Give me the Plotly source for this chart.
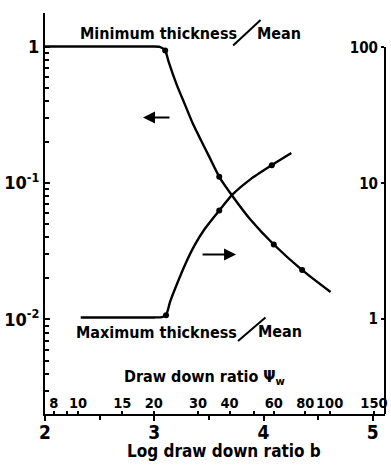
import numpy as np
import plotly.graph_objects as go

# ---- data ----
# Minimum thickness / Mean  (left axis) vs log draw down ratio b
b_min = [2.0, 2.5, 2.95, 3.05, 3.10, 3.132, 3.206, 3.281, 3.356, 3.43, 3.505, 3.595,
         3.717, 3.88, 4.094, 4.354, 4.614]
min_ratio = [1.0, 1.0, 1.0, 0.995, 0.936, 0.77, 0.523, 0.375, 0.269, 0.204, 0.1546, 0.111,
             0.080, 0.054, 0.0354, 0.023, 0.0159]
b_min_pts = [3.10, 3.595, 4.094, 4.354]
min_pts = [0.936, 0.111, 0.0354, 0.023]

# Maximum thickness / Mean  (right axis)
b_max = [2.327, 2.8, 3.0, 3.07, 3.108, 3.146, 3.206, 3.281, 3.37, 3.46, 3.595, 3.715,
         3.88, 4.076, 4.255]
max_ratio = [1.03, 1.03, 1.03, 1.035, 1.07, 1.35, 1.80, 2.51, 3.51, 4.59, 6.31, 8.25,
             10.7, 13.6, 16.7]
b_max_pts = [3.108, 3.595, 4.076]
max_pts = [1.07, 6.31, 13.6]

# axis ticks
b_ticks = [2, 3, 4, 5]
psi_ticks = [8, 9, 10, 15, 20, 30, 40, 50, 60, 80, 100, 150]
psi_labels = ["8", " ", "10", "15", "20", "30", "40", " ", "60", "80", "100", "150"]
left_ticks = [1, 0.1, 0.01]
left_labels = ["1", "10<sup>-1</sup>", "10<sup>-2</sup>"]
right_ticks = [1, 10, 100]
right_labels = ["1", "10", "100"]

FONT = "DejaVu Sans Condensed, DejaVu Sans"
BLACK = "black"

fig = go.Figure()
fig.add_trace(go.Scatter(x=b_min, y=min_ratio, mode="lines",
                         line=dict(color=BLACK, width=2.4, shape="spline", smoothing=0.6),
                         xaxis="x", yaxis="y", showlegend=False))
fig.add_trace(go.Scatter(x=b_min_pts, y=min_pts, mode="markers",
                         marker=dict(color=BLACK, size=6),
                         xaxis="x", yaxis="y", showlegend=False))
fig.add_trace(go.Scatter(x=b_max, y=max_ratio, mode="lines",
                         line=dict(color=BLACK, width=2.4, shape="spline", smoothing=0.6),
                         xaxis="x", yaxis="y2", showlegend=False))
fig.add_trace(go.Scatter(x=b_max_pts, y=max_pts, mode="markers",
                         marker=dict(color=BLACK, size=6),
                         xaxis="x", yaxis="y2", showlegend=False))
# invisible trace to activate the top psi scale
fig.add_trace(go.Scatter(x=[np.log(psi_ticks[0])], y=[1], mode="markers",
                         marker=dict(opacity=0), xaxis="x2", yaxis="y",
                         showlegend=False, hoverinfo="skip"))

xr = [2, 2 + 347 / 111.5]
minor_left = [k * 10.0 ** e for e in (-3, -2, -1) for k in range(2, 10)]

fig.update_layout(
    width=391, height=468,
    margin=dict(l=40, r=4, t=7, b=54),
    paper_bgcolor="white", plot_bgcolor="rgba(0,0,0,0)",
    font=dict(family=FONT, color=BLACK),
    xaxis=dict(range=xr, tickvals=b_ticks, ticks="outside", ticklen=5, tickwidth=2,
               tickcolor=BLACK, showline=True, linecolor=BLACK, linewidth=2,
               showgrid=False, zeroline=False, ticklabelstandoff=-5,
               tickfont=dict(size=19, family=FONT, weight="bold"),
               minor=dict(dtick=0.5, ticks="outside", ticklen=4, tickwidth=2, tickcolor=BLACK, showgrid=False)),
    xaxis2=dict(range=xr, overlaying="x", anchor="free", position=0, side="top",
                tickvals=list(np.log(psi_ticks)), ticktext=psi_labels, tickangle=0,
                ticks="outside", ticklen=3, tickwidth=2, tickcolor=BLACK,
                ticklabeloverflow="allow", ticklabelstandoff=-3,
                showline=False, showgrid=False, zeroline=False,
                tickfont=dict(size=14.5, family=FONT, weight="bold")),
    yaxis=dict(type="log", range=[-2.693, 0.2455], tickvals=left_ticks, ticktext=left_labels,
               ticks="inside", ticklen=5, tickwidth=2, tickcolor=BLACK,
               showline=True, linecolor=BLACK, linewidth=2, showgrid=False, zeroline=False,
               tickfont=dict(size=18, family=FONT, weight="bold"),
               minor=dict(tickvals=minor_left, ticks="inside", ticklen=4, tickwidth=2,
                          tickcolor=BLACK, showgrid=False)),
    yaxis2=dict(type="log", range=[-0.698, 2.0], domain=[0, 0.914],
                anchor="free", position=1, side="left",
                tickvals=right_ticks, ticktext=right_labels,
                ticks="outside", ticklen=3, tickwidth=2, tickcolor=BLACK,
                showline=True, linecolor=BLACK, linewidth=2, showgrid=False, zeroline=False,
                tickfont=dict(size=15, family=FONT, weight="bold")),
)

def px(x):
    return (x - 40) / 347

def py(y):
    return (414 - y) / 407

tfont = dict(size=16, family=FONT, color=BLACK, weight="bold")
ann = [
    dict(text="Minimum thickness", x=px(74), y=py(28), xanchor="left", yanchor="middle"),
    dict(text="Mean", x=px(254), y=py(28), xanchor="left", yanchor="middle"),
    dict(text="Maximum thickness", x=px(70), y=py(331), xanchor="left", yanchor="middle"),
    dict(text="Mean", x=px(255), y=py(330), xanchor="left", yanchor="middle"),
    dict(text="Draw down ratio Ψ<sub>w</sub>", x=px(119), y=py(377), xanchor="left", yanchor="middle"),
    dict(text="Log draw down ratio b", x=px(122), y=py(452), xanchor="left", yanchor="middle",
         font=dict(size=17, family=FONT, color=BLACK, weight="bold")),
]
for a in ann:
    a.setdefault("font", tfont)
    fig.add_annotation(xref="paper", yref="paper", showarrow=False, **a)

# arrows
fig.add_annotation(xref="paper", yref="paper", x=px(140), y=py(113), ax=28, ay=0,
                   text="", showarrow=True, arrowhead=2, arrowsize=1.2, arrowwidth=2, arrowcolor=BLACK)
fig.add_annotation(xref="paper", yref="paper", x=px(235), y=py(252), ax=-35, ay=0,
                   text="", showarrow=True, arrowhead=2, arrowsize=1.2, arrowwidth=2, arrowcolor=BLACK)

# slashes in the labels
for (x0, y0, x1, y1) in [(232, 40, 260, 14), (237, 340, 265, 316)]:
    fig.add_shape(type="line", xref="paper", yref="paper",
                  x0=px(x0), y0=py(y0), x1=px(x1), y1=py(y1),
                  line=dict(color=BLACK, width=2))

fig.write_html("out.html")
